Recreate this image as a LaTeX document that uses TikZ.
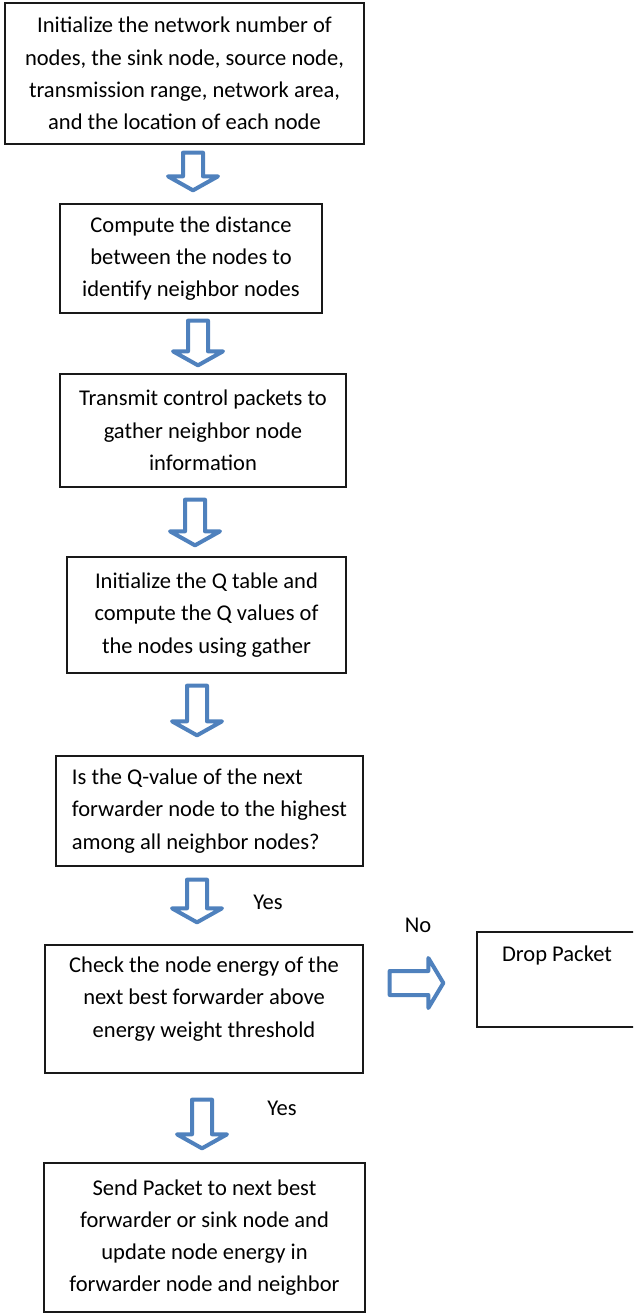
\documentclass[tikz,border=0pt]{standalone}
\usepackage{fontspec}
\setmainfont{Carlito}
\usetikzlibrary{calc}
\usetikzlibrary{fit}
\usetikzlibrary{positioning}
\definecolor{arrowblue}{RGB}{79,129,189}
\tikzset{%
    stepbox/.style={draw={rgb,255:red,25;green,25;blue,25},line width=1pt,inner sep=0pt,align=center,font=\fontsize{16.9}{24.2}\selectfont},%
    steptext/.style={inner sep=0pt,align=center,font=\fontsize{16.9}{24.2}\selectfont},%
    blockarrow/.style={draw=arrowblue,fill=white,line width=3pt,line join=round},%
}
% hollow down arrow between two boxes: x, upper node, gap below it, lower node, gap above it
\newcommand{\downblock}[5]{%
    \coordinate (ax) at (#1,0);%
    \draw [blockarrow] ($(#2.south -| ax)+(-10,#3)$) -- ($(#2.south -| ax)+(10,#3)$) -- ($(#4.north -| ax)+(10,-#5-14)$) -- ($(#4.north -| ax)+(25,-#5-14)$) -- ($(#4.north -| ax)+(0,-#5)$) -- ($(#4.north -| ax)+(-25,-#5-14)$) -- ($(#4.north -| ax)+(-10,-#5-14)$) -- cycle ;%
}
% hollow right arrow between two boxes: y, left node, gap right of it, right node, gap left of it
\newcommand{\rightblock}[5]{%
    \coordinate (ay) at (0,#1);%
    \draw [blockarrow] ($(#2.east |- ay)+(#3,-12)$) -- ($(#4.west |- ay)+(-#5-15,-12)$) -- ($(#4.west |- ay)+(-#5-15,-25)$) -- ($(#4.west |- ay)+(-#5,0)$) -- ($(#4.west |- ay)+(-#5-15,25)$) -- ($(#4.west |- ay)+(-#5-15,12)$) -- ($(#2.east |- ay)+(#3,12)$) -- cycle ;%
}

\begin{document}
\begin{tikzpicture}[x=0.75pt,y=0.75pt,yscale=-1,xscale=1]
\useasboundingbox (0,0) rectangle (633,1314);
\clip (0,0) rectangle (633,1314);

%Shape: Rectangle
\node [stepbox, minimum width=269.25pt, minimum height=105.75pt] (init) at (184.5,73.5) {Initialize the network number of\\nodes, the sink node, source node,\\transmission range, network area,\\and the location of each node};
%Shape: Rectangle
\node [stepbox, minimum width=196.5pt, minimum height=81.75pt] (dist) at (191,258.5) {Compute the distance\\between the nodes to\\identify neighbor nodes};
%Shape: Rectangle
\node [stepbox, minimum width=214.5pt, minimum height=84.75pt] (ctrl) at (203,430.5) {Transmit control packets to\\gather neighbor node\\information};
%Shape: Rectangle
\node [stepbox, minimum width=209.25pt, minimum height=87pt] (qtab) at (206.5,615) {Initialize the Q table and\\compute the Q values of\\the nodes using gather};
%Shape: Rectangle
\node [stepbox, align=left, minimum width=230.25pt, minimum height=82.5pt] (best) at (209.5,811) {Is the Q-value of the next\\forwarder node to the highest\\among all neighbor nodes?};
%Shape: Rectangle
\node [stepbox, minimum width=238.5pt, minimum height=96pt] (energy) at (204,1009) {};
% Text Node
\node [steptext] (energytxt) at ([yshift=-7.5pt]energy.center) {Check the node energy of the\\next best forwarder above\\energy weight threshold};
%Shape: Rectangle
\node [stepbox, minimum width=240.75pt, minimum height=111.75pt] (send) at (204.5,1237.5) {Send Packet to next best\\forwarder or sink node and\\update node energy in\\forwarder node and neighbor};
%Shape: Rectangle
\node [stepbox, fit={(477,932) (650,1027)}] (drop) {};
% Text Node
\node [steptext] (droptxt) at (557,955) {Drop Packet};

%Down Arrow
\downblock{193}{init}{8}{dist}{13}
\downblock{198}{dist}{7}{ctrl}{8}
\downblock{195}{ctrl}{12}{qtab}{11}
\downblock{197}{qtab}{12}{best}{20}
\downblock{197}{best}{13}{energy}{22}
\downblock{202}{energy}{26}{send}{14}
%Right Arrow
\rightblock{983}{energy}{26}{drop}{33}

% Text Node
\node [steptext] (yes1) at (268,902) {Yes};
% Text Node
\node [steptext] (no) at (418,925) {No};
% Text Node
\node [steptext] (yes2) at (282,1108) {Yes};

\end{tikzpicture}
\end{document}
